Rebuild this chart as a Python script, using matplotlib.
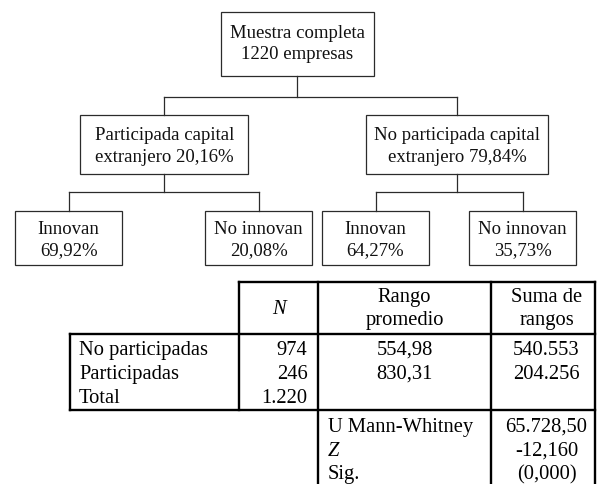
# Árbol de la muestra + tabla de la prueba U de Mann-Whitney
import matplotlib.pyplot as plt
from matplotlib.patches import Rectangle

plt.rcParams['font.family'] = ['Liberation Serif', 'DejaVu Serif']

# Texto de los nodos del árbol (nivel 0, 1 y 2)
raiz = ["Muestra completa", "1220 empresas"]
nivel1 = [["Participada capital", "extranjero 20,16%"],
          ["No participada capital", "extranjero 79,84%"]]
nivel2 = [["Innovan", "69,92%"], ["No innovan", "20,08%"],
          ["Innovan", "64,27%"], ["No innovan", "35,73%"]]

# Tabla
cabecera = ["N", "Rango\npromedio", "Suma de\nrangos"]
grupos = ["No participadas", "Participadas", "Total"]
n_val = ["974", "246", "1.220"]
rango_prom = ["554,98", "830,31", ""]
suma_rangos = ["540.553", "204.256", ""]
estadisticos = ["U Mann-Whitney", "Z", "Sig."]
est_val = ["65.728,50", "-12,160", "(0,000)"]

W, H = 601, 484
fig = plt.figure(figsize=(W / 100, H / 100), dpi=100)
ax = fig.add_axes([0, 0, 1, 1])
ax.set_xlim(0, W)
ax.set_ylim(H, 0)
ax.axis('off')

tree_col = '#2b2b2b'
tree_lw = 0.9
fs_tree = 13.5
fs_tab = 14.8

# cajas: (x0, y0, x1, y1)
caja_raiz = (220.7, 12.3, 374.0, 75.7)
cajas1 = [(80.3, 115.0, 248.3, 173.7), (366.3, 115.0, 548.3, 173.7)]
cajas2 = [(15.0, 210.7, 122.3, 265.0), (205.0, 210.7, 312.3, 265.0),
          (321.7, 210.7, 429.3, 265.0), (469.0, 210.7, 576.0, 265.0)]


def caja(b, lineas, base0, paso):
    x0, y0, x1, y1 = b
    ax.add_patch(Rectangle((x0, y0), x1 - x0, y1 - y0, fill=False,
                           ec=tree_col, lw=tree_lw))
    for i, t in enumerate(lineas):
        ax.text((x0 + x1) / 2, base0 + i * paso, t, ha='center',
                va='baseline', fontsize=fs_tree, color='#111111')


def conector(padre, hijos, ymid):
    px = (padre[0] + padre[2]) / 2
    ax.plot([px, px], [padre[3], ymid], color=tree_col, lw=tree_lw)
    xs = [(h[0] + h[2]) / 2 for h in hijos]
    ax.plot([min(xs), max(xs)], [ymid, ymid], color=tree_col, lw=tree_lw)
    for x, h in zip(xs, hijos):
        ax.plot([x, x], [ymid, h[1]], color=tree_col, lw=tree_lw)


caja(caja_raiz, raiz, 38.5, 20.5)
for b, t in zip(cajas1, nivel1):
    caja(b, t, 140.0, 22.0)
for b, t in zip(cajas2, nivel2):
    caja(b, t, 234.3, 20.5)

conector(caja_raiz, cajas1, 96.7)
conector(cajas1[0], cajas2[:2], 192.3)
conector(cajas1[1], cajas2[2:], 192.3)

# ---- tabla ----
tab_lw = 1.7
xl, xh, xc1, xc2, xr = 69.7, 239.3, 318.3, 490.7, 595.0
yt, yb, ym = 282.3, 333.5, 410.0
segs = [
    ([xh, xr], [yt, yt]),
    ([xl, xr], [yb, yb]),
    ([xl, xr], [ym, ym]),
    ([xh, xh], [yt, ym]),
    ([xl, xl], [yb, ym]),
    ([xc1, xc1], [yt, H]),
    ([xc2, xc2], [yt, H]),
    ([xr, xr], [yt, H]),
]
for sx, sy in segs:
    ax.plot(sx, sy, color='black', lw=tab_lw, solid_capstyle='projecting')

# cabecera
ax.text((xh + xc1) / 2, 314, cabecera[0], ha='center', va='baseline',
        fontsize=fs_tab, style='italic')
for xc, t in zip([404.5, 546.5], cabecera[1:]):
    l1, l2 = t.split("\n")
    ax.text(xc, 302, l1, ha='center', va='baseline', fontsize=fs_tab)
    ax.text(xc, 325, l2, ha='center', va='baseline', fontsize=fs_tab)

# filas
for i in range(3):
    yb_i = 355 + 24 * i
    ax.text(79, yb_i, grupos[i], ha='left', va='baseline', fontsize=fs_tab)
    ax.text(307.5, yb_i, n_val[i], ha='right', va='baseline', fontsize=fs_tab)
    ax.text(404.5, yb_i, rango_prom[i], ha='center', va='baseline', fontsize=fs_tab)
    ax.text(546.5, yb_i, suma_rangos[i], ha='center', va='baseline', fontsize=fs_tab)

for i in range(3):
    yb_i = 432 + 23.5 * i
    ax.text(328, yb_i, estadisticos[i], ha='left', va='baseline', fontsize=fs_tab,
            style='italic' if estadisticos[i] == "Z" else 'normal')
    ax.text(546.5, yb_i, est_val[i], ha='center', va='baseline', fontsize=fs_tab)

fig.savefig('out.png', dpi=100, facecolor='white')
